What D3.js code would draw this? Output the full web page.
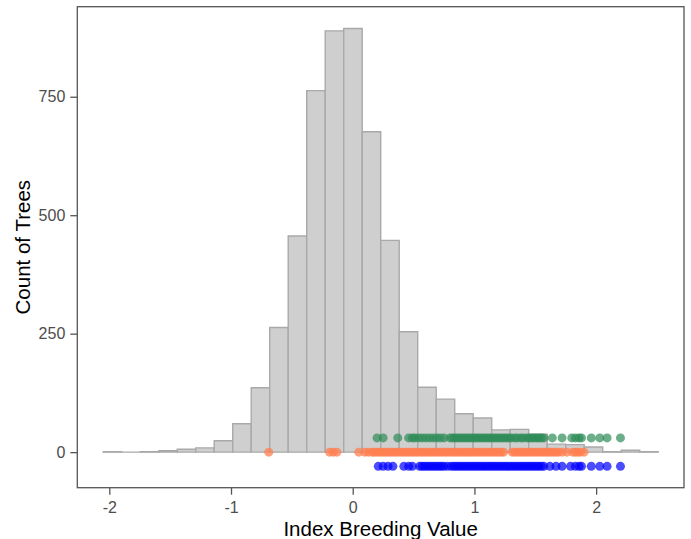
<!DOCTYPE html>
<html>
<head>
<meta charset="utf-8">
<script src="https://cdn.jsdelivr.net/npm/d3@7"></script>
<style>
  html, body { margin: 0; padding: 0; background: #fff; }
  svg { display: block; }
  text { font-family: "Liberation Sans", Arial, Helvetica, sans-serif; }
</style>
</head>
<body>
<svg id="chart" width="691" height="539"></svg>
<script>
// Histogram of index breeding values (30 bins)
const binBreaks = [-2.05, -1.898, -1.746, -1.594, -1.442, -1.29, -1.138, -0.986, -0.834, -0.682,
  -0.53, -0.378, -0.226, -0.074, 0.078, 0.23, 0.382, 0.534, 0.686, 0.838,
  0.99, 1.142, 1.294, 1.446, 1.598, 1.75, 1.902, 2.054, 2.206, 2.358, 2.51];
const binCounts = [1, 0, 1, 3, 6, 9, 24, 60, 136, 263,
  456, 763, 889, 894, 676, 447, 254, 137, 112, 81,
  72, 47, 48, 38, 17, 16, 11, 1, 4, 1];

// Selected trees, drawn as rows of points at fixed offsets on the count axis
const greenLevel = 30;
const orangeLevel = 0;
const blueLevel = -30;

const greenValues = [0.20, 0.25, 0.37, 0.46, 0.49, 0.51, 0.54, 0.57, 0.60, 0.63, 0.66, 0.69, 0.72,
  0.75, 0.80, 0.82, 0.84, 0.86, 0.88, 0.90, 0.92, 0.94, 0.96, 0.98, 1.00, 1.02, 1.04, 1.06,
  1.08, 1.10, 1.12, 1.14, 1.16, 1.18, 1.20, 1.22, 1.24, 1.26, 1.28, 1.30, 1.33, 1.35, 1.38,
  1.40, 1.43, 1.45, 1.47, 1.49, 1.51, 1.53, 1.55, 1.57, 1.64, 1.72, 1.80, 1.83, 1.86, 1.88,
  1.96, 2.03, 2.09, 2.20];

const orangeValues = [-0.69, -0.19, -0.16, -0.13, 0.05, 0.10, 0.13, 0.16, 0.18, 0.20, 0.22, 0.24,
  0.26, 0.28, 0.30, 0.32, 0.34, 0.36, 0.38, 0.40, 0.42, 0.44, 0.46, 0.48, 0.50, 0.52, 0.54,
  0.56, 0.58, 0.60, 0.62, 0.64, 0.66, 0.68, 0.70, 0.72, 0.74, 0.76, 0.78, 0.80, 0.82, 0.84,
  0.86, 0.88, 0.90, 0.92, 0.94, 0.96, 0.98, 1.00, 1.02, 1.04, 1.06, 1.08, 1.10, 1.12, 1.14,
  1.16, 1.18, 1.20, 1.22, 1.24, 1.31, 1.33, 1.35, 1.37, 1.39, 1.41, 1.43, 1.45, 1.47, 1.49,
  1.51, 1.53, 1.55, 1.57, 1.59, 1.61, 1.63, 1.65, 1.67, 1.69, 1.72, 1.76, 1.81, 1.83, 1.85,
  1.87, 1.90];

const blueValues = [0.21, 0.25, 0.29, 0.33, 0.42, 0.46, 0.49, 0.55, 0.57, 0.59, 0.61, 0.63, 0.65,
  0.67, 0.69, 0.71, 0.73, 0.75, 0.78, 0.81, 0.83, 0.85, 0.87, 0.89, 0.91, 0.93, 0.95, 0.97,
  0.99, 1.01, 1.03, 1.05, 1.07, 1.09, 1.11, 1.13, 1.15, 1.17, 1.19, 1.21, 1.23, 1.25, 1.27,
  1.29, 1.31, 1.33, 1.35, 1.37, 1.39, 1.41, 1.43, 1.45, 1.47, 1.49, 1.51, 1.53, 1.55, 1.57,
  1.62, 1.67, 1.72, 1.79, 1.83, 1.86, 1.88, 1.96, 2.03, 2.09, 2.20];

const xTicks = [-2, -1, 0, 1, 2];
const yTicks = [0, 250, 500, 750];

const svg = d3.select("#chart");
const panel = { left: 77.3, right: 684, top: 6.7, bottom: 487.7 };

const x = d3.scaleLinear().domain([-2.263, 2.722]).range([panel.left, panel.right]);
const y = d3.scaleLinear().domain([-75, 940]).range([panel.bottom, panel.top]);

// bars (as closed paths so empty bins still show their outline along the baseline)
const bins = binCounts.map((c, i) => ({ x0: binBreaks[i], x1: binBreaks[i + 1], count: c }));
svg.append("g").selectAll("path")
  .data(bins)
  .join("path")
  .attr("d", d => {
    const p = d3.path();
    p.moveTo(x(d.x0), y(0));
    p.lineTo(x(d.x0), y(d.count));
    p.lineTo(x(d.x1), y(d.count));
    p.lineTo(x(d.x1), y(0));
    p.closePath();
    return p.toString();
  })
  .attr("fill", "#cfcfcf")
  .attr("stroke", "#a9a9a9")
  .attr("stroke-width", 1.4);

// point rows
function pointRow(values, level, color, alpha) {
  svg.append("g").selectAll("circle")
    .data(values)
    .join("circle")
    .attr("cx", d => x(d))
    .attr("cy", y(level))
    .attr("r", 4.5)
    .attr("fill", color)
    .attr("fill-opacity", alpha);
}
pointRow(greenValues, greenLevel, "#2e8b57", 0.7);
pointRow(orangeValues, orangeLevel, "#ff7f50", 0.75);
pointRow(blueValues, blueLevel, "#0000ff", 0.7);

// panel border
svg.append("rect")
  .attr("x", panel.left).attr("y", panel.top)
  .attr("width", panel.right - panel.left)
  .attr("height", panel.bottom - panel.top)
  .attr("fill", "none")
  .attr("stroke", "#555")
  .attr("stroke-width", 1.3);

// axes
const xAxis = svg.append("g")
  .attr("transform", `translate(0,${panel.bottom})`)
  .call(d3.axisBottom(x).tickValues(xTicks).tickFormat(d => String(d)).tickSize(7).tickPadding(7));
const yAxis = svg.append("g")
  .attr("transform", `translate(${panel.left},0)`)
  .call(d3.axisLeft(y).tickValues(yTicks).tickFormat(d => String(d)).tickSize(7).tickPadding(5));

[xAxis, yAxis].forEach(g => {
  g.select(".domain").remove();
  g.selectAll(".tick line").attr("stroke", "#555").attr("stroke-width", 1.3);
  g.selectAll(".tick text")
    .attr("fill", "#4d4d4d")
    .style("font-size", "16px")
    .style("font-family", "'Liberation Sans', Arial, sans-serif");
});

// axis titles
svg.append("text")
  .attr("x", (panel.left + panel.right) / 2)
  .attr("y", 536)
  .attr("text-anchor", "middle")
  .style("font-size", "20.5px")
  .attr("fill", "#000")
  .text("Index Breeding Value");

svg.append("text")
  .attr("transform", `translate(29.5,${(panel.top + panel.bottom) / 2}) rotate(-90)`)
  .attr("text-anchor", "middle")
  .style("font-size", "20.5px")
  .attr("fill", "#000")
  .text("Count of Trees");
</script>
</body>
</html>
